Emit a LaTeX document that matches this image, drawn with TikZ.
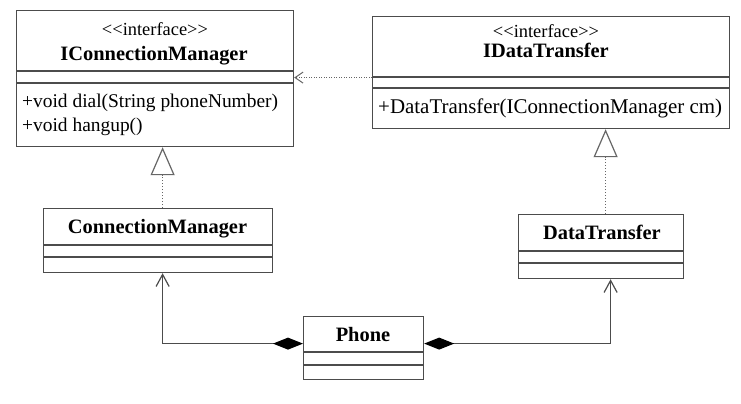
\documentclass[tikz,border=0pt]{standalone}
\usepackage{fontspec}
\setmainfont{Liberation Serif}
\usetikzlibrary{arrows.meta}

\begin{document}
\begin{tikzpicture}[x=1bp,y=-1bp,
		cls/.style={draw=black!70,line width=1.2bp,inner sep=0pt,anchor=north west},
		sep/.style={draw=black!70,line width=1.2bp},
		txt/.style={inner sep=0pt,anchor=base,font=\fontsize{19.5}{23}\selectfont},
		stx/.style={inner sep=0pt,anchor=base,font=\fontsize{18.5}{22}\selectfont},
		ttl/.style={inner sep=0pt,anchor=base,font=\fontsize{20.5}{24}\selectfont\bfseries},
		dep/.style={draw=black!60,line width=1bp,dash pattern=on 1bp off 1.5bp,-{Straight Barb[length=8bp,width=11bp,line width=1bp]}},
		real/.style={draw=black!60,line width=1bp,dash pattern=on 1.5bp off 1.5bp,-{Triangle[open,fill=white,length=28bp,width=24bp,line width=1.2bp]}},
		comp/.style={draw=black!70,line width=1.2bp,{Diamond[length=30bp,width=12bp,color=black,fill=black]}-{Straight Barb[length=12bp,width=13bp,line width=1.2bp]}}]
		% Set up the stereotype text
		\newcommand{\stereo}{<\kern0pt<interface>\kern0pt>}

		\useasboundingbox (0,0) rectangle (741,403);

		% interfaces
		\node[cls,minimum width=277bp,minimum height=136bp] (icm) at (16,10) {};
		\draw[sep] (16,71) -- (293,71) (16,83) -- (293,83);
		\node[stx] (icmst) at (155,35) {\stereo};
		\node[ttl] (icmname) at (154,60) {IConnectionManager};
		\node[txt,anchor=base west] (icmdial) at (22,107) {+void dial(String phoneNumber)};
		\node[txt,anchor=base west] (icmhang) at (22,131) {+void hangup()};

		\node[cls,minimum width=357bp,minimum height=112bp] (idt) at (372,16) {};
		\draw[sep] (372,77) -- (729,77) (372,88) -- (729,88);
		\node[stx] (idtst) at (546,37) {\stereo};
		\node[ttl] (idtname) at (546,57) {IDataTransfer};
		\node[txt,anchor=base west,font=\fontsize{21}{24}\selectfont] (idtmeth) at (378,113) {+DataTransfer(IConnectionManager cm)};

		% classes
		\node[cls,minimum width=229bp,minimum height=64bp] (cm) at (43,208) {};
		\draw[sep] (43,245) -- (272,245) (43,257) -- (272,257);
		\node[ttl] (cmname) at (157.5,233) {ConnectionManager};

		\node[cls,minimum width=165bp,minimum height=64bp] (dt) at (518,214) {};
		\draw[sep] (518,251) -- (683,251) (518,263) -- (683,263);
		\node[ttl] (dtname) at (602,239) {DataTransfer};

		\node[cls,minimum width=120bp,minimum height=63bp] (ph) at (303,316) {};
		\draw[sep] (303,352) -- (423,352) (303,365) -- (423,365);
		\node[ttl] (phname) at (363,341) {Phone};

		% relations
		\coordinate (dsrc) at ([yshift=-5bp]idt.west);
		\draw[dep] (dsrc) -- (dsrc -| icm.east);
		\coordinate (cmtop) at ([xshift=4.5bp]cm.north);
		\draw[real] (cmtop) -- (cmtop |- icm.south);
		\coordinate (dttop) at ([xshift=4.5bp]dt.north);
		\draw[real] (dttop) -- (dttop |- idt.south);
		\draw[comp] ([yshift=4.5bp]ph.west) -| ([xshift=4.5bp]cm.south);
		\draw[comp] ([yshift=4.5bp]ph.east) -| ([xshift=9.5bp]dt.south);
	\end{tikzpicture}
\end{document}
